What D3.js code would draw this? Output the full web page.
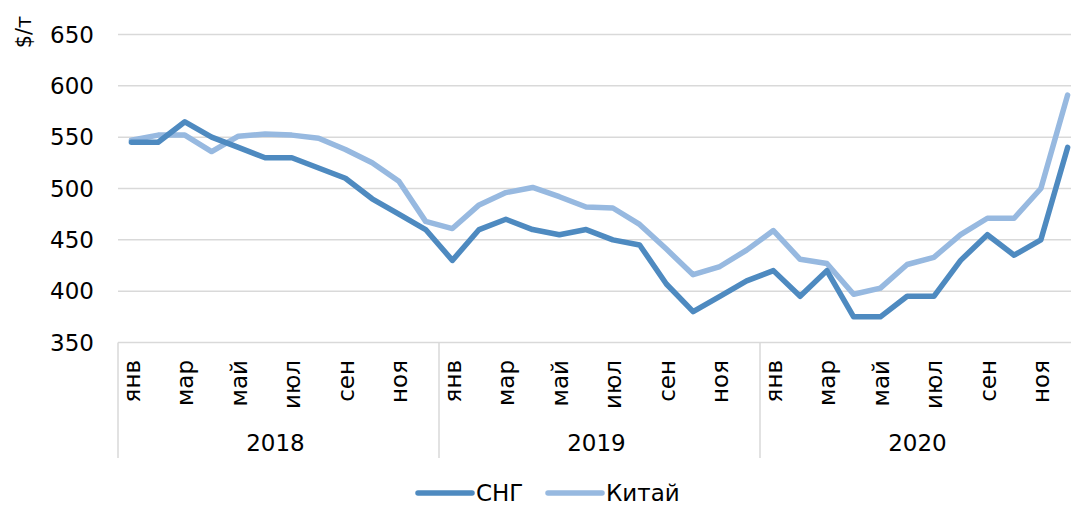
<!DOCTYPE html>
<html>
<head>
<meta charset="utf-8">
<script src="https://cdn.jsdelivr.net/npm/d3@7"></script>
<style>
  body { margin: 0; background: #fff; }
  svg text { font-family: "DejaVu Sans", Verdana, sans-serif; fill: #000; }
</style>
</head>
<body>
<script>
// data
const years = ["2018", "2019", "2020"];
const monthNames = ["янв", "фев", "мар", "апр", "май", "июн", "июл", "авг", "сен", "окт", "ноя", "дек"];
const shownMonths = ["янв", "мар", "май", "июл", "сен", "ноя"];
const cis = [545, 545, 565, 550, 540, 530, 530, 520, 510, 490, 475, 460,
             430, 460, 470, 460, 455, 460, 450, 445, 407, 380, 395, 410,
             420, 395, 420, 375, 375, 395, 395, 430, 455, 435, 450, 540];
const china = [547, 552, 552, 536, 551, 553, 552, 549, 538, 525, 507, 468,
               461, 484, 496, 501, 492, 482, 481, 465, 441, 416, 424, 440,
               459, 431, 427, 397, 403, 426, 433, 455, 471, 471, 500, 591];
const yTicks = [350, 400, 450, 500, 550, 600, 650];
const seriesNames = ["СНГ", "Китай"];

const w = 1071, h = 505;
const padL = 118, padR = 1081, padT = 34.5, padB = 342.5;
const colors = ["#4e8ac0", "#97b9e0"];

const keys = [];
years.forEach(y => monthNames.forEach((m, i) => keys.push({year: y, month: m, key: y + "-" + i})));

const svg = d3.select("body").append("svg")
  .attr("width", w).attr("height", h);

const xScale = d3.scaleBand().domain(keys.map(d => d.key)).range([padL, padR]);
const yearScale = d3.scaleBand().domain(years).range([padL, padR]);
const yScale = d3.scaleLinear().domain([350, 650]).range([padB, padT]);

// grid
svg.append("g").selectAll("line")
  .data(yTicks)
  .enter().append("line")
  .attr("x1", padL).attr("x2", padR)
  .attr("y1", d => yScale(d)).attr("y2", d => yScale(d))
  .attr("stroke", "#d9d9d9").attr("stroke-width", 1.5);

// y labels
svg.append("g").selectAll("text")
  .data(yTicks)
  .enter().append("text")
  .attr("x", 94).attr("y", d => yScale(d))
  .attr("dy", "0.36em")
  .attr("text-anchor", "end")
  .style("font-size", "23px")
  .text(d => d);

svg.append("text")
  .attr("transform", "translate(31,32) rotate(-90)")
  .attr("text-anchor", "middle")
  .style("font-size", "21px")
  .text("$/т");

// year separators
const sep = years.map(y => yearScale(y)).concat([padR]);
svg.append("g").selectAll("line")
  .data(sep)
  .enter().append("line")
  .attr("x1", d => d).attr("x2", d => d)
  .attr("y1", padB).attr("y2", 458)
  .attr("stroke", "#d9d9d9").attr("stroke-width", 1.5);

// month labels
svg.append("g").selectAll("text")
  .data(keys.filter(d => shownMonths.includes(d.month)))
  .enter().append("text")
  .attr("transform", d => "translate(" + (xScale(d.key) + xScale.bandwidth() / 2) + ",360) rotate(-90)")
  .attr("dy", "0.36em")
  .attr("text-anchor", "end")
  .style("font-size", "23px")
  .text(d => d.month);

// year labels
svg.append("g").selectAll("text")
  .data(years)
  .enter().append("text")
  .attr("x", d => yearScale(d) + yearScale.bandwidth() / 2 - 3)
  .attr("y", 451)
  .attr("text-anchor", "middle")
  .style("font-size", "23px")
  .text(d => d);

// lines
const line = d3.line()
  .x((d, i) => xScale(keys[i].key) + xScale.bandwidth() / 2)
  .y(d => yScale(d));

[china, cis].forEach((s, j) => {
  svg.append("path")
    .datum(s)
    .attr("d", line)
    .attr("fill", "none")
    .attr("stroke", j === 0 ? colors[1] : colors[0])
    .attr("stroke-width", 5.5)
    .attr("stroke-linejoin", "round")
    .attr("stroke-linecap", "round");
});

// legend
const legendX = [418, 548];
const lg = svg.append("g").selectAll("g")
  .data(seriesNames)
  .enter().append("g")
  .attr("transform", (d, i) => "translate(" + legendX[i] + ",493)");
lg.append("line")
  .attr("x1", 0).attr("x2", 54)
  .attr("stroke", (d, i) => colors[i])
  .attr("stroke-width", 5.5)
  .attr("stroke-linecap", "round");
lg.append("text")
  .attr("x", 58).attr("dy", "0.36em")
  .style("font-size", "23px")
  .text(d => d);
</script>
</body>
</html>
